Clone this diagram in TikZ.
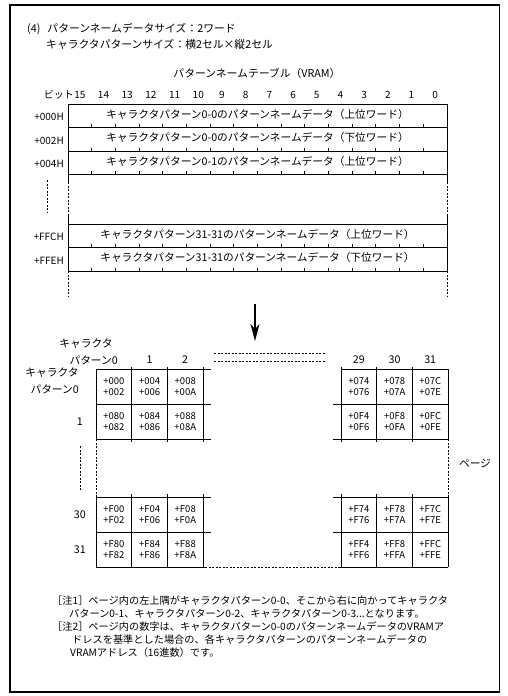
\documentclass[tikz,border=0pt]{standalone}
\usepackage{fontspec}
\setmainfont{Noto Sans CJK JP}
\usetikzlibrary{arrows.meta}
\begin{document}
\begin{tikzpicture}[x=1pt,y=-1pt,
  frame/.style={line width=1.4pt},
  tbl/.style={line width=0.9pt},
  grd/.style={line width=1pt},
  dsh/.style={line width=0.9pt, dash pattern=on 2pt off 1.5pt},
  txt/.style={inner sep=0pt, font=\fontsize{10.7}{12}\selectfont},
  hdr/.style={inner sep=0pt, font=\fontsize{10.8}{13}\selectfont},
  bit/.style={inner sep=0pt, font=\fontsize{10}{12}\selectfont},
  cell/.style={inner sep=0pt, align=center, font=\fontsize{9.5}{11}\selectfont},
  note/.style={inner sep=0pt, anchor=west, font=\fontsize{10.2}{12}\selectfont},
]
\useasboundingbox (0,0) rectangle (507,696);
\draw[frame] (10,5) rectangle (499.5,692);

% header
\node[hdr,anchor=west] (h1) at (27,29) {(4)\hspace{7pt}パターンネームデータサイズ：2ワード};
\node[hdr,anchor=west] (h2) at (46,44.5) {キャラクタパターンサイズ：横2セル×縦2セル};
\node[hdr] (title) at (257,73) {パターンネームテーブル（VRAM）};

% bit numbers
\node[bit,anchor=east] (bitlbl) at (74,95) {ビット};
\foreach \i in {0,...,15} {
  \pgfmathtruncatemacro{\b}{15-\i}
  \node[bit] (b\b) at ({68+23.6875*(\i+0.5)},95) {\b};
}

% table rows
\foreach \y in {104,127.5,151,174.5,224,247.5,271} \draw[tbl] (68,\y) -- (447,\y);
\foreach \r in {127.5,151,174.5,247.5,271} \foreach \k in {1,...,15} \draw[tbl] ({68+23.6875*\k},\r) -- ++(0,-3.5);
\foreach \x in {68,447} {
  \draw[tbl] (\x,104) -- (\x,182);
  \draw[dsh] (\x,182) -- (\x,215);
  \draw[tbl] (\x,215) -- (\x,271);
  \draw[dsh] (\x,271) -- (\x,296);
}
\draw[dsh] (47,180) -- (47,212);

\node[txt] (r1) at (257.5,114) {キャラクタパターン0-0のパターンネームデータ（上位ワード）};
\node[txt] (r2) at (257.5,137.5) {キャラクタパターン0-0のパターンネームデータ（下位ワード）};
\node[txt] (r3) at (257.5,161) {キャラクタパターン0-1のパターンネームデータ（上位ワード）};
\node[txt] (r4) at (257.5,234) {キャラクタパターン31-31のパターンネームデータ（上位ワード）};
\node[txt] (r5) at (257.5,257.5) {キャラクタパターン31-31のパターンネームデータ（下位ワード）};

\node[bit,anchor=east] (a1) at (64,117) {+000H};
\node[bit,anchor=east] (a2) at (64,140.5) {+002H};
\node[bit,anchor=east] (a3) at (64,164) {+004H};
\node[bit,anchor=east] (a4) at (64,237) {+FFCH};
\node[bit,anchor=east] (a5) at (64,260.5) {+FFEH};

% arrow
\coordinate (arS) at (255,304);
\coordinate (arE) at (255,341);
\draw[line width=1.2pt,-{Stealth[length=17pt,width=9pt,inset=5pt]}] (arS) -- (arE);

% grid horizontals
\draw[grd] (96,369) -- (211,369);
\draw[grd] (341,369) -- (448,369);
\foreach \y in {404,439,497,532} {
  \draw[grd] (96,\y) -- (211,\y);
  \draw[grd] (333,\y) -- (448,\y);
}
\draw[grd] (96,567) -- (205,567);
\draw[dsh] (205,567) -- (340,567);
\draw[grd] (340,567) -- (448,567);
% grid verticals
\draw[grd] (96,369) -- (96,439);
\draw[dsh] (96,439) -- (96,497);
\draw[grd] (96,497) -- (96,567);
\draw[grd] (448,369) -- (448,439);
\draw[dsh] (448,439) -- (448,497);
\draw[grd] (448,497) -- (448,567);
\foreach \x in {131.7,167.4,203.1,341,376.7,412.4} {
  \draw[grd] (\x,367) -- (\x,442);
  \draw[grd] (\x,494) -- (\x,567);
}
\draw[dsh] (214,353) -- (325,353);
\draw[dsh] (214,361) -- (325,361);
\draw[dsh] (80,446) -- (80,491);

% grid headers
\node[txt] (ch1) at (86,344) {キャラクタ};
\node[txt,anchor=east] (ch2) at (118,360) {パターン0};
\node[txt] (c1) at (149.5,360) {1};
\node[txt] (c2) at (185.2,360) {2};
\node[txt] (c29) at (358.8,360) {29};
\node[txt] (c30) at (394.5,360) {30};
\node[txt] (c31) at (430.2,360) {31};
\node[txt] (rh1) at (52,373) {キャラクタ};
\node[txt,anchor=east] (rh2) at (79,389) {パターン0};
\node[txt,anchor=east] (rr1) at (83,421.5) {1};
\node[txt,anchor=east] (rr30) at (86,514.5) {30};
\node[txt,anchor=east] (rr31) at (86,549.5) {31};
\node[txt] (page) at (475,463) {ページ};

% cells
\node[cell] (u00) at (113.85,386.5) {+000\\+002};
\node[cell] (u01) at (149.55,386.5) {+004\\+006};
\node[cell] (u02) at (185.25,386.5) {+008\\+00A};
\node[cell] (u10) at (113.85,421.5) {+080\\+082};
\node[cell] (u11) at (149.55,421.5) {+084\\+086};
\node[cell] (u12) at (185.25,421.5) {+088\\+08A};
\node[cell] (u029) at (358.85,386.5) {+074\\+076};
\node[cell] (u030) at (394.55,386.5) {+078\\+07A};
\node[cell] (u031) at (430.2,386.5) {+07C\\+07E};
\node[cell] (u129) at (358.85,421.5) {+0F4\\+0F6};
\node[cell] (u130) at (394.55,421.5) {+0F8\\+0FA};
\node[cell] (u131) at (430.2,421.5) {+0FC\\+0FE};
\node[cell] (d00) at (113.85,514.5) {+F00\\+F02};
\node[cell] (d01) at (149.55,514.5) {+F04\\+F06};
\node[cell] (d02) at (185.25,514.5) {+F08\\+F0A};
\node[cell] (d10) at (113.85,549.5) {+F80\\+F82};
\node[cell] (d11) at (149.55,549.5) {+F84\\+F86};
\node[cell] (d12) at (185.25,549.5) {+F88\\+F8A};
\node[cell] (d029) at (358.85,514.5) {+F74\\+F76};
\node[cell] (d030) at (394.55,514.5) {+F78\\+F7A};
\node[cell] (d031) at (430.2,514.5) {+F7C\\+F7E};
\node[cell] (d129) at (358.85,549.5) {+FF4\\+FF6};
\node[cell] (d130) at (394.55,549.5) {+FF8\\+FFA};
\node[cell] (d131) at (430.2,549.5) {+FFC\\+FFE};

% notes
\node[note] (n1) at (52,601) {［注1］ページ内の左上隅がキャラクタパターン0-0、そこから右に向かってキャラクタ};
\node[note] (n2) at (69,614) {パターン0-1、キャラクタパターン0-2、キャラクタパターン0-3...となります。};
\node[note] (n3) at (52,627) {［注2］ページ内の数字は、キャラクタパターン0-0のパターンネームデータのVRAMア};
\node[note] (n4) at (72,640) {ドレスを基準とした場合の、各キャラクタパターンのパターンネームデータの};
\node[note] (n5) at (70,653) {VRAMアドレス（16進数）です。};
\end{tikzpicture}
\end{document}
